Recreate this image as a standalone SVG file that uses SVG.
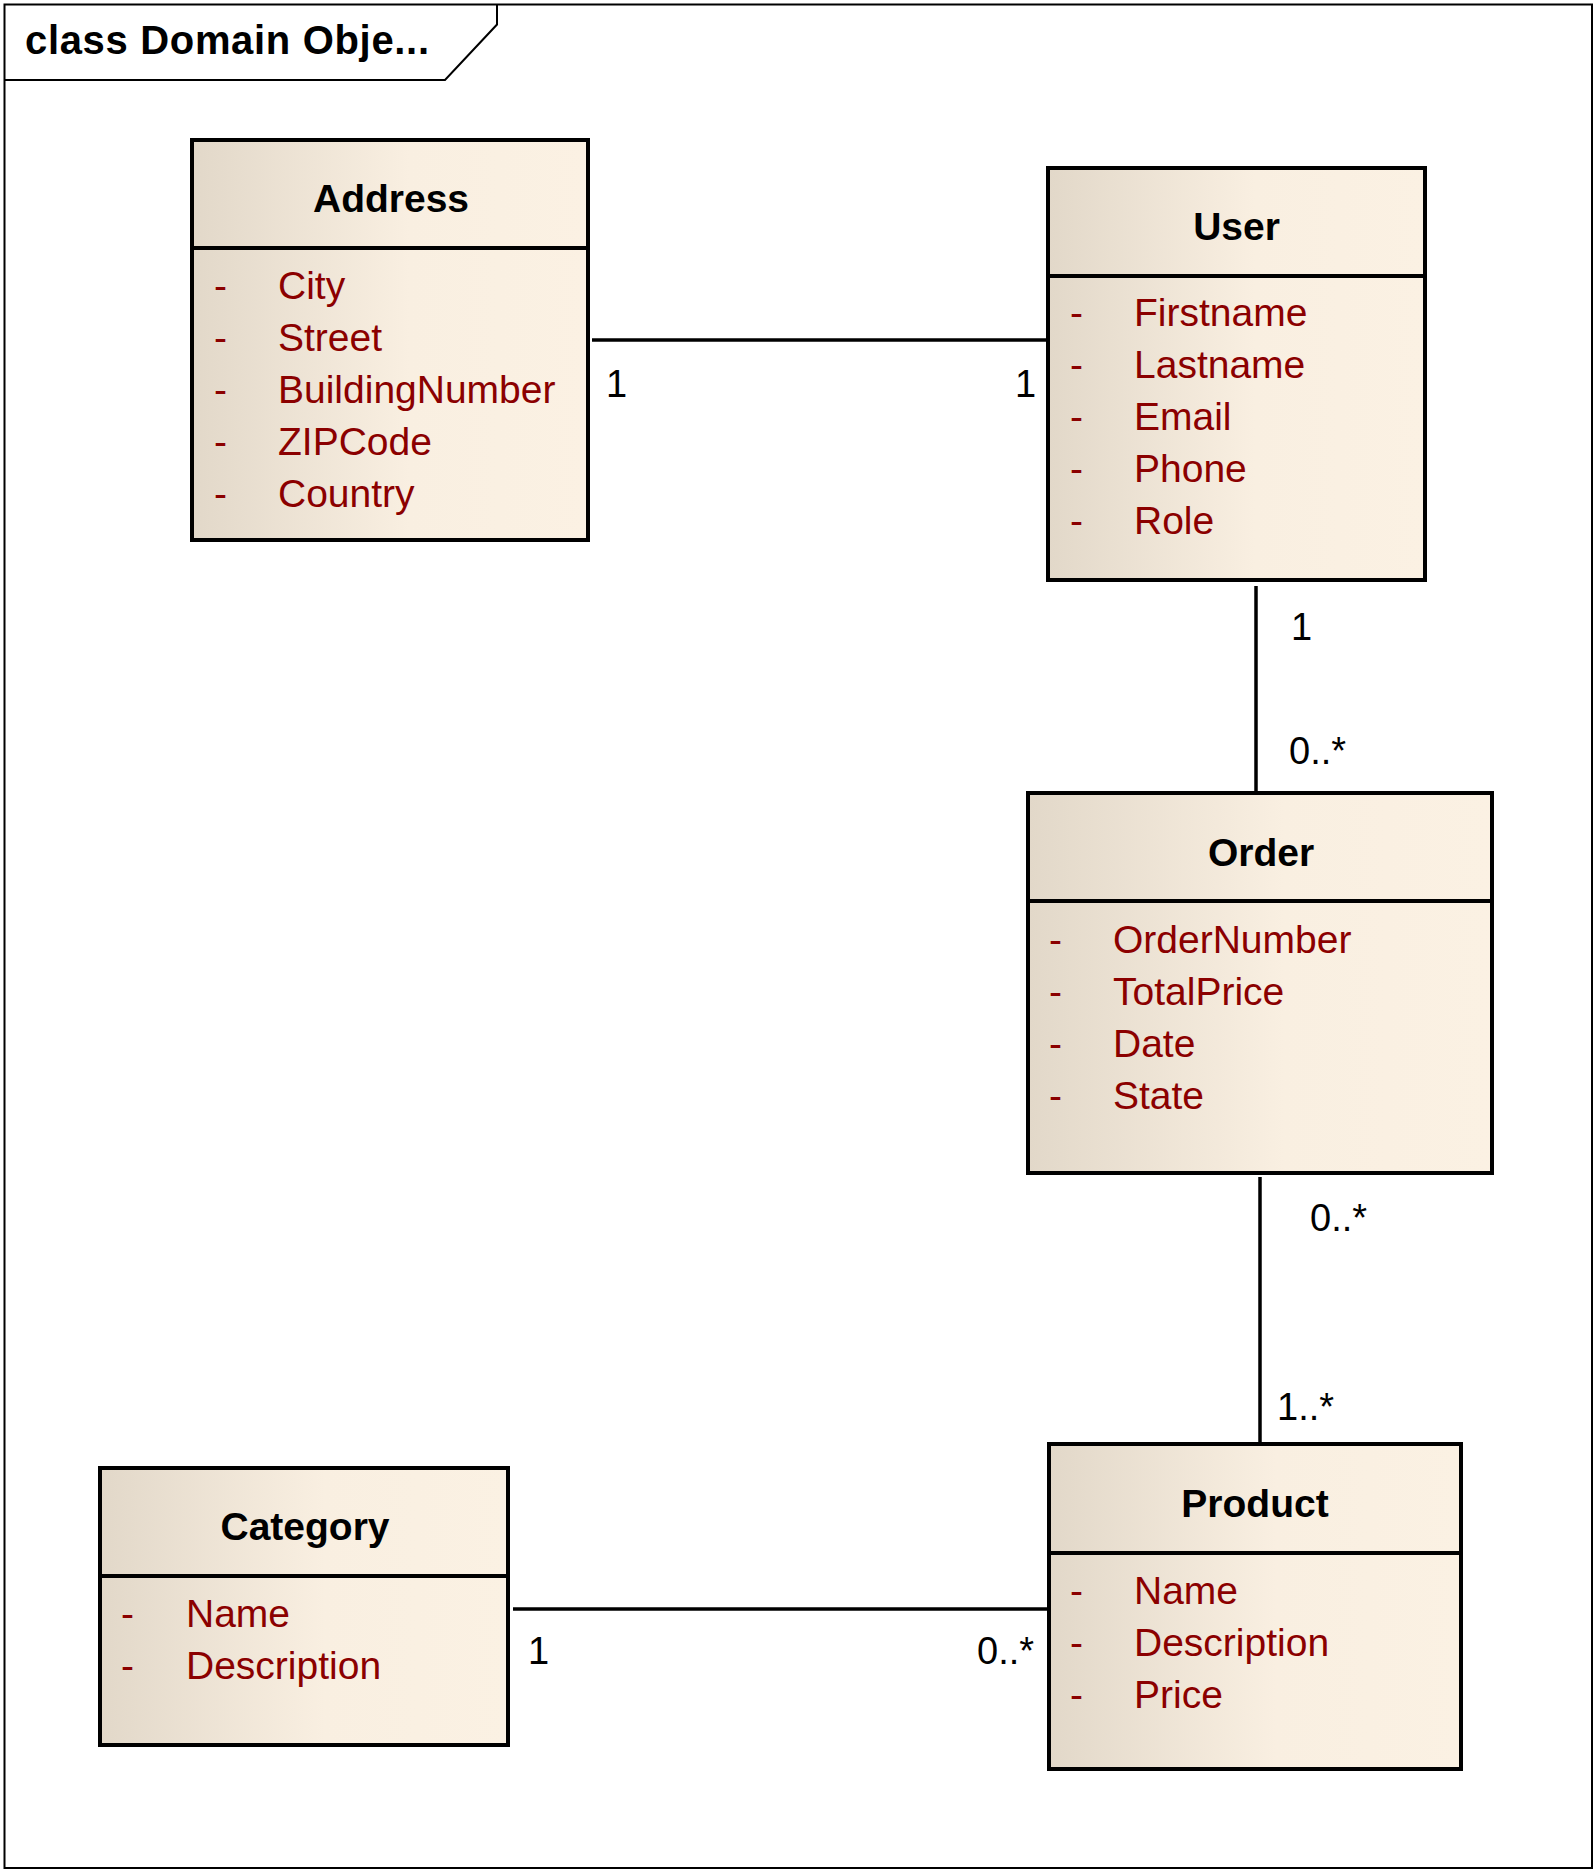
<svg xmlns="http://www.w3.org/2000/svg" width="1596" height="1872" viewBox="0 0 1596 1872">
<defs>
<linearGradient id="fill" x1="0" y1="0" x2="1" y2="0">
<stop offset="0" stop-color="#E2D8C9"/>
<stop offset="0.55" stop-color="#F9EFE1"/>
<stop offset="1" stop-color="#FBF1E3"/>
</linearGradient>
<style>
.box{fill:url(#fill);stroke:#000;stroke-width:4}
.div{stroke:#000;stroke-width:4}
.title{font-family:"Liberation Sans",Arial,sans-serif;font-weight:bold;font-size:39px;fill:#000;text-anchor:middle}
.attr{font-family:"Liberation Sans",Arial,sans-serif;font-size:39px;fill:#8B0000}
.lbl{font-family:"Liberation Sans",Arial,sans-serif;font-size:38px;fill:#000}
.conn{stroke:#000;stroke-width:3.5;fill:none}
.frame{fill:none;stroke:#000;stroke-width:2}
</style>
</defs>
<rect width="1596" height="1872" fill="#fff"/>
<g id="frame">
<rect class="frame" x="4.5" y="4.5" width="1587.5" height="1863.5"/>
<path class="frame" d="M4.5,80 H445 L497,24.5 V4.5" stroke-width="1.6"/>
<text x="25" y="54" font-family="'Liberation Sans',Arial,sans-serif" font-weight="bold" font-size="40" textLength="404" lengthAdjust="spacing">class Domain Obje...</text>
</g>
<g id="connectors">
<line class="conn" x1="592" y1="340" x2="1048" y2="340"/>
<line class="conn" x1="1256" y1="586" x2="1256" y2="793"/>
<line class="conn" x1="1260" y1="1177" x2="1260" y2="1444"/>
<line class="conn" x1="513" y1="1609" x2="1049" y2="1609"/>
<text class="lbl" x="606" y="397">1</text>
<text class="lbl" x="1015" y="397">1</text>
<text class="lbl" x="1291" y="640">1</text>
<text class="lbl" x="1289" y="764">0..*</text>
<text class="lbl" x="1310" y="1231">0..*</text>
<text class="lbl" x="1277" y="1420">1..*</text>
<text class="lbl" x="528" y="1664">1</text>
<text class="lbl" x="977" y="1664">0..*</text>
</g>
<g id="Address">
<rect class="box" x="192" y="140" width="396" height="400"/>
<line class="div" x1="192" y1="248" x2="588" y2="248"/>
<text class="title" x="391" y="212">Address</text>
<text class="attr" x="214" y="299">-</text><text class="attr" x="278" y="299">City</text>
<text class="attr" x="214" y="351">-</text><text class="attr" x="278" y="351">Street</text>
<text class="attr" x="214" y="403">-</text><text class="attr" x="278" y="403">BuildingNumber</text>
<text class="attr" x="214" y="455">-</text><text class="attr" x="278" y="455">ZIPCode</text>
<text class="attr" x="214" y="507">-</text><text class="attr" x="278" y="507">Country</text>
</g>
<g id="User">
<rect class="box" x="1048" y="168" width="377" height="412"/>
<line class="div" x1="1048" y1="276" x2="1425" y2="276"/>
<text class="title" x="1236.5" y="240">User</text>
<text class="attr" x="1070" y="326">-</text><text class="attr" x="1134" y="326">Firstname</text>
<text class="attr" x="1070" y="378">-</text><text class="attr" x="1134" y="378">Lastname</text>
<text class="attr" x="1070" y="430">-</text><text class="attr" x="1134" y="430">Email</text>
<text class="attr" x="1070" y="482">-</text><text class="attr" x="1134" y="482">Phone</text>
<text class="attr" x="1070" y="534">-</text><text class="attr" x="1134" y="534">Role</text>
</g>
<g id="Order">
<rect class="box" x="1028" y="793" width="464" height="380"/>
<line class="div" x1="1028" y1="901" x2="1492" y2="901"/>
<text class="title" x="1261" y="866">Order</text>
<text class="attr" x="1049" y="953">-</text><text class="attr" x="1113" y="953">OrderNumber</text>
<text class="attr" x="1049" y="1005">-</text><text class="attr" x="1113" y="1005">TotalPrice</text>
<text class="attr" x="1049" y="1057">-</text><text class="attr" x="1113" y="1057">Date</text>
<text class="attr" x="1049" y="1109">-</text><text class="attr" x="1113" y="1109">State</text>
</g>
<g id="Product">
<rect class="box" x="1049" y="1444" width="412" height="325"/>
<line class="div" x1="1049" y1="1553" x2="1461" y2="1553"/>
<text class="title" x="1255" y="1517">Product</text>
<text class="attr" x="1070" y="1604">-</text><text class="attr" x="1134" y="1604">Name</text>
<text class="attr" x="1070" y="1656">-</text><text class="attr" x="1134" y="1656">Description</text>
<text class="attr" x="1070" y="1708">-</text><text class="attr" x="1134" y="1708">Price</text>
</g>
<g id="Category">
<rect class="box" x="100" y="1468" width="408" height="277"/>
<line class="div" x1="100" y1="1576" x2="508" y2="1576"/>
<text class="title" x="305" y="1540">Category</text>
<text class="attr" x="121" y="1627">-</text><text class="attr" x="186" y="1627">Name</text>
<text class="attr" x="121" y="1679">-</text><text class="attr" x="186" y="1679">Description</text>
</g>
</svg>
